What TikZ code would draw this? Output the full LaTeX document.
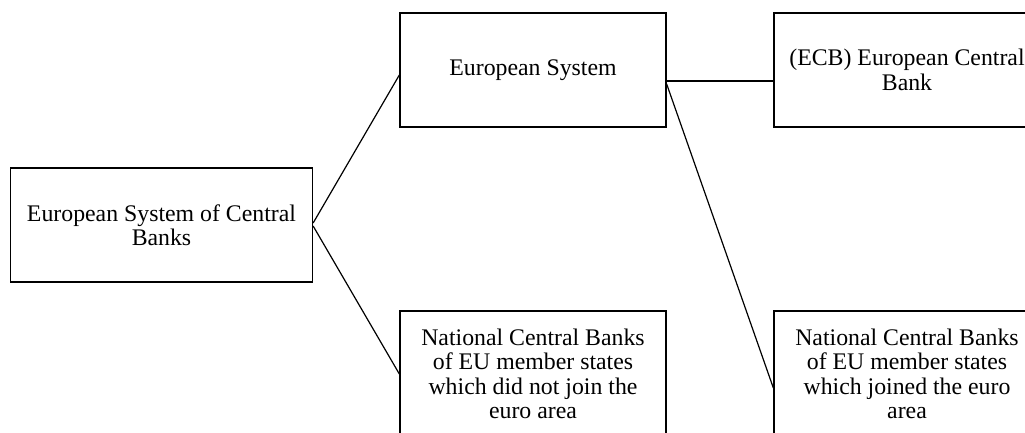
\documentclass[tikz,border=0pt]{standalone}
\usepackage{fontspec}
\setmainfont{Liberation Serif}
\usepackage{tikz}

\begin{document}
\begin{tikzpicture}[x=1pt, y=-1pt, bnode/.style={draw,rectangle,line width=1.3pt,inner sep=0pt,align=center,font=\fontsize{23.8}{24.5}\selectfont}, wnode/.style={bnode,minimum width=266pt,minimum height=114pt}]
    \useasboundingbox (0,0) rectangle (1025,433);
    \clip (0,0) rectangle (1025,433);

    \node[bnode, minimum width=302pt, minimum height=114pt] (0) at (161.5,225) {European System of Central\\Banks};
    \node[wnode] (1) at (533,70) {European System};
    \node[wnode] (2) at (907,70) {(ECB) European Central\\Bank};
    \node[wnode, minimum height=126pt] (3) at (533,374) {National Central Banks\\of EU member states\\which did not join the\\euro area};
    \node[wnode, minimum height=126pt] (4) at (907,374) {National Central Banks\\of EU member states\\which joined the euro\\area};

    \draw[line width=1.2pt] ([yshift=2pt]0.east) -- ([yshift=-5pt]1.west) ;
    \draw[line width=1.2pt] ([yshift=-1pt]0.east) -- (3.west) ;
    \draw[line width=1.2pt] ([yshift=-11pt]1.east) -- ([yshift=-11pt]2.west) ;
    \draw[line width=1.2pt] ([yshift=-14pt]1.east) -- ([yshift=-14pt]4.west) ;
\end{tikzpicture}
\end{document}
